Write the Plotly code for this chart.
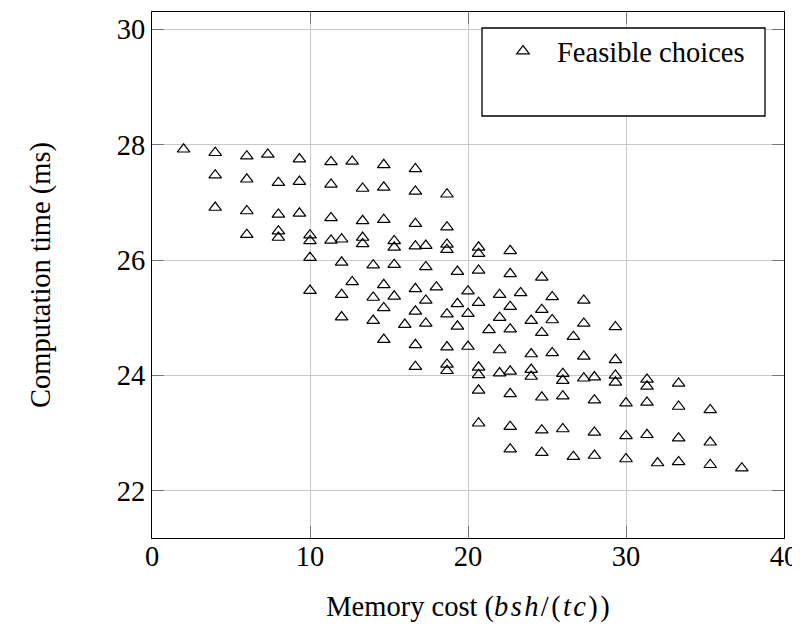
import plotly.graph_objects as go

# Memory cost (bsh/(tc)) and computation time (ms) of feasible choices
memory_cost = [
    2,
    4, 4, 4,
    6, 6, 6, 6,
    7.33,
    8, 8, 8, 8,
    9.33, 9.33, 9.33,
    10, 10, 10, 10,
    11.33, 11.33, 11.33, 11.33,
    12, 12, 12, 12,
    12.67, 12.67,
    13.33, 13.33, 13.33, 13.33,
    14, 14, 14,
    14.67, 14.67, 14.67, 14.67, 14.67, 14.67,
    15.33, 15.33, 15.33, 15.33,
    16,
    16.67, 16.67, 16.67, 16.67, 16.67, 16.67, 16.67, 16.67,
    17.33, 17.33, 17.33, 17.33,
    18,
    18.67, 18.67, 18.67, 18.67, 18.67, 18.67, 18.67, 18.67,
    19.33, 19.33, 19.33,
    20, 20, 20,
    20.67, 20.67, 20.67, 20.67, 20.67, 20.67, 20.67, 20.67,
    21.33,
    22, 22, 22, 22,
    22.67, 22.67, 22.67, 22.67, 22.67, 22.67, 22.67, 22.67,
    23.33,
    24, 24, 24, 24,
    24.67, 24.67, 24.67, 24.67, 24.67, 24.67,
    25.33, 25.33, 25.33,
    26, 26, 26, 26,
    26.67, 26.67,
    27.33, 27.33, 27.33, 27.33,
    28, 28, 28, 28,
    29.33, 29.33, 29.33, 29.33,
    30, 30, 30,
    31.33, 31.33, 31.33, 31.33,
    32,
    33.33, 33.33, 33.33, 33.33,
    35.33, 35.33, 35.33,
    37.33,
]
computation_time = [
    27.92,
    27.86, 27.47, 26.91,
    27.80, 27.40, 26.85, 26.44,
    27.83,
    27.34, 26.79, 26.50, 26.39,
    27.75, 27.36, 26.81,
    26.43, 26.33, 26.04, 25.47,
    27.70, 27.31, 26.73, 26.34,
    26.36, 25.96, 25.40, 25.01,
    27.71, 25.62,
    27.24, 26.68, 26.39, 26.28,
    25.91, 25.35, 24.95,
    27.65, 27.26, 26.70, 25.57, 25.17, 24.62,
    26.33, 26.22, 25.92, 25.37,
    24.88,
    27.58, 27.19, 26.63, 26.24, 25.50, 25.11, 24.53, 24.15,
    26.25, 25.88, 25.30, 24.90,
    25.53,
    27.14, 26.57, 26.27, 26.18, 25.06, 24.49, 24.19, 24.08,
    25.80, 25.24, 24.85,
    25.46, 25.07, 24.50,
    26.22, 26.11, 25.82, 25.26, 24.14, 24.01, 23.74, 23.17,
    24.79,
    25.40, 25.00, 24.44, 24.04,
    26.16, 25.76, 25.19, 24.80, 24.07, 23.68, 23.11, 22.72,
    25.43,
    24.95, 24.37, 24.10, 23.98,
    25.70, 25.14, 24.74, 23.62, 23.05, 22.66,
    25.36, 24.96, 24.39,
    24.03, 23.91, 23.64, 23.07,
    24.67, 22.59,
    25.30, 24.90, 24.33, 23.95,
    23.97, 23.57, 23.01, 22.61,
    24.84, 24.27, 24.00, 23.88,
    23.52, 22.95, 22.55,
    23.93, 23.81, 23.53, 22.97,
    22.48,
    23.86, 23.46, 22.91, 22.50,
    23.40, 22.84, 22.45,
    22.39,
]

x_ticks = [0, 10, 20, 30, 40]
y_ticks = [22, 24, 26, 28, 30]
series_name = "Feasible choices"

FONT = "Liberation Serif, Times New Roman, serif"
FS = 28.5
HS = "\u200a"  # hair space, mimics math-mode letter spacing

x_title = ("Memory cost (<i>b" + HS + "s" + HS + "h</i>" + HS + "/" + HS + "("
           + HS + "<i>t" + HS + "c</i>" + HS + ")" + HS + ")")

fig = go.Figure()
fig.add_trace(go.Scatter(
    x=memory_cost, y=computation_time, mode="markers", name=series_name,
    marker=dict(symbol="triangle-up-open", size=11, color="black",
                line=dict(width=1.2, color="black")),
    showlegend=True,
))

axis_common = dict(
    showline=True, linecolor="black", linewidth=1.3, mirror="ticks",
    showgrid=True, gridcolor="#c8c8c8", gridwidth=1,
    ticks="inside", ticklen=12, tickcolor="#777777", tickwidth=1,
    zeroline=False, automargin=False,
    tickfont=dict(family=FONT, size=FS, color="black"),
)

# the page body has an 8px margin, so the figure is offset by 8px
fig.update_layout(
    width=800, height=625,
    margin=dict(l=144, r=24, t=4, b=95),
    paper_bgcolor="white", plot_bgcolor="white",
    font=dict(family=FONT, size=FS, color="black"),
    xaxis=dict(range=[0, 40], tickvals=x_ticks, ticklabelstandoff=-7,
               title=dict(text=x_title,
                          font=dict(family=FONT, size=FS), standoff=24),
               **axis_common),
    yaxis=dict(range=[21.18, 30.30], tickvals=y_ticks,
               title=dict(text="Computation time (ms)",
                          font=dict(family=FONT, size=FS), standoff=57),
               **axis_common),
    legend=dict(x=(489 - 152) / 632, y=(538 - 26) / 526,
                xanchor="left", yanchor="top",
                bgcolor="rgba(0,0,0,0)", borderwidth=0,
                font=dict(family=FONT, size=FS, color="black"),
                itemwidth=58),
    shapes=[dict(type="rect", xref="paper", yref="paper",
                 x0=(482 - 152) / 632, x1=(765 - 152) / 632,
                 y0=(538 - 116) / 526, y1=(538 - 28) / 526,
                 line=dict(color="black", width=1.3), fillcolor="white",
                 layer="above")],
)

fig.write_html("out.html")
